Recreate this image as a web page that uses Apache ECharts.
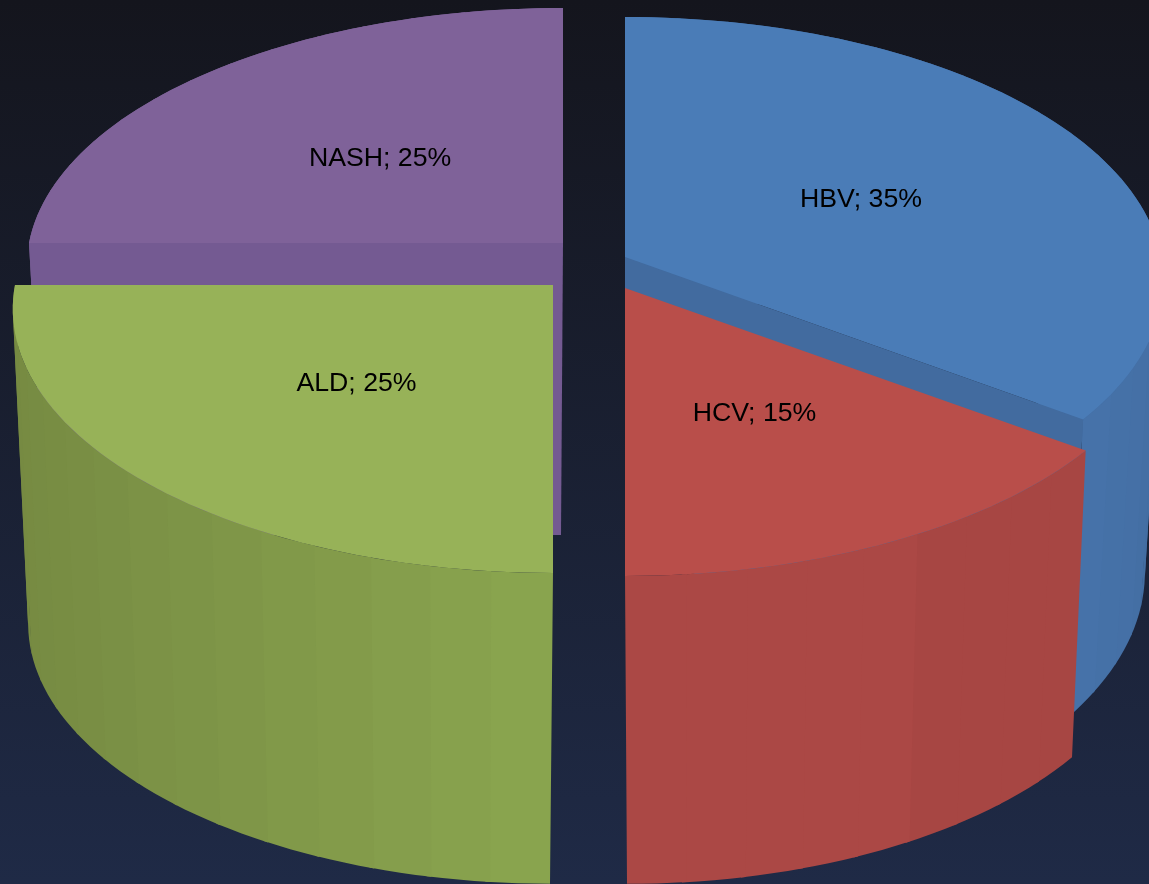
<!DOCTYPE html>
<html>
<head>
<meta charset="utf-8">
<style>html,body{margin:0;padding:0;background:#15161f}#c{width:1149px;height:884px}</style>
<script src="https://cdn.jsdelivr.net/npm/echarts@6/dist/echarts.min.js"></script>
</head>
<body>
<div id="c"></div>
<script>
// Data
const categories = ['HBV', 'HCV', 'ALD', 'NASH'];
const shares = [35, 15, 25, 25];

// Exploded-slice placement and colours
const apexX = [625, 625, 553, 563];
const apexY = [257, 288, 285, 243];
const radiusX = [536, 539, 538, 534];
const depthRadius = [261.8, 261.8, 261.8, 256.4];
const wallHeights = [290, 305, 315, 292];
const bottomDepthScale = [1.05, 1.01, 0.985, 0.985];
const bottomShiftX = [0, 2, -3, -2];
const layerOrder = [10, 20, 20, 10];
const labelOffsetX = [2, 2, 0, 0];
const labelOffsetY = [0.5, 4.5, 2.5, 3.5];
const topColors = ['#4a7cb7', '#b94e4a', '#97b258', '#7f6299'];
const cutColors = ['#426b9f', '#a64542', '#82994c', '#745a92'];
const wallNear = ['#4673aa', '#ab4845', '#8aa54f', '#7a6095'];
const wallFar = ['#41699c', '#a54441', '#768a42', '#7a6095'];

// Projection settings
const persp = 0.0909, bottomScale = 0.966;
const facetDeg = 6;

function mix(a, b, t) {
  const pa = [1, 3, 5].map(i => parseInt(a.substr(i, 2), 16));
  const pb = [1, 3, 5].map(i => parseInt(b.substr(i, 2), 16));
  return 'rgb(' + pa.map((v, i) => Math.round(v + (pb[i] - v) * t)).join(',') + ')';
}
function topPt(i, deg, r) {
  r = r === undefined ? 1 : r;
  const a = deg * Math.PI / 180, u = Math.sin(a) * r, v = -Math.cos(a) * r, p = 1 / (1 - persp * v);
  return [apexX[i] + radiusX[i] * u * p, apexY[i] + depthRadius[i] * v * p];
}
function botPt(i, deg) {
  const a = deg * Math.PI / 180, u = Math.sin(a), v = -Math.cos(a), p = 1 / (1 - persp * v);
  return [apexX[i] + bottomShiftX[i] + radiusX[i] * bottomScale * u * p,
          apexY[i] + wallHeights[i] + depthRadius[i] * bottomDepthScale[i] * v * p];
}
const total = shares.reduce((s, v) => s + v, 0);
const starts = [];
shares.reduce((acc, v, i) => { starts[i] = acc; return acc + v; }, 0);

function poly(points, color, z2) {
  return { type: 'polygon', z2: z2, shape: { points: points },
    style: { fill: color }, silent: true };
}

function renderSlice(params, api) {
  const i = params.dataIndex;
  const value = api.value(0);
  const a0 = starts[i] / total * 360, a1 = a0 + value / total * 360;
  const z = layerOrder[i];
  const children = [];
  const n = Math.max(1, Math.round((a1 - a0) / facetDeg));
  // outer wall facets, each curved edge sampled finely and overlapping its neighbour
  for (let k = 0; k < n; k++) {
    const d0 = a0 + (a1 - a0) * k / n;
    const d1 = Math.min(a1, a0 + (a1 - a0) * (k + 1) / n + 0.5);
    const m = a0 + (a1 - a0) * (k + 0.5) / n;
    const t = Math.abs(Math.sin(m * Math.PI / 180));
    const edge = i === 0 ? Math.min(1, (m < 126 ? (126 - m) / 50 : 0)) : (i === 1 ? (m < 153 ? 1 : 0) * 0.6 : t);
    const up = [], down = [];
    for (let s = 0; s <= 4; s++) {
      const d = d0 + (d1 - d0) * s / 4;
      up.push(topPt(i, d));
      down.unshift(botPt(i, d));
    }
    children.push(poly(up.concat(down), mix(wallNear[i], wallFar[i], edge), z + k * 0.001));
  }
  // radial cut faces
  const cutAngles = (i === 0) ? [a1] : (i === 3 ? [a0] : []);
  const centerTop = [apexX[i], apexY[i]];
  const centerBot = [apexX[i] + bottomShiftX[i], apexY[i] + wallHeights[i]];
  cutAngles.forEach(d => {
    children.push(poly([centerTop, topPt(i, d), botPt(i, d), centerBot], cutColors[i], z + 1));
  });
  // top face
  const pts = [centerTop];
  const steps = Math.round((a1 - a0) / 1.5);
  for (let k = 0; k <= steps; k++) pts.push(topPt(i, a0 + (a1 - a0) * k / steps));
  children.push(poly(pts, topColors[i], z + 2));
  // label at half radius along the slice's bisector
  const lp = topPt(i, (a0 + a1) / 2, 0.5);
  children.push({ type: 'text', z2: 100, silent: true,
    style: { x: lp[0] + labelOffsetX[i], y: lp[1] + labelOffsetY[i], text: categories[i] + '; ' + value + '%', fill: '#000000',
      font: '26.7px "Liberation Sans", Arial, sans-serif', textAlign: 'center', textVerticalAlign: 'middle' } });
  return { type: 'group', children: children };
}

const chart = echarts.init(document.getElementById('c'), null, { renderer: 'canvas' });
chart.setOption({
  animation: false,
  backgroundColor: { type: 'linear', x: 0, y: 0, x2: 0, y2: 1,
    colorStops: [{ offset: 0, color: '#14151d' }, { offset: 1, color: '#1f2a46' }] },
  series: [{
    type: 'custom',
    coordinateSystem: 'none',
    clip: false,
    renderItem: renderSlice,
    data: shares.map((v, i) => ({ name: categories[i], value: [v] }))
  }]
});
</script>
</body>
</html>
